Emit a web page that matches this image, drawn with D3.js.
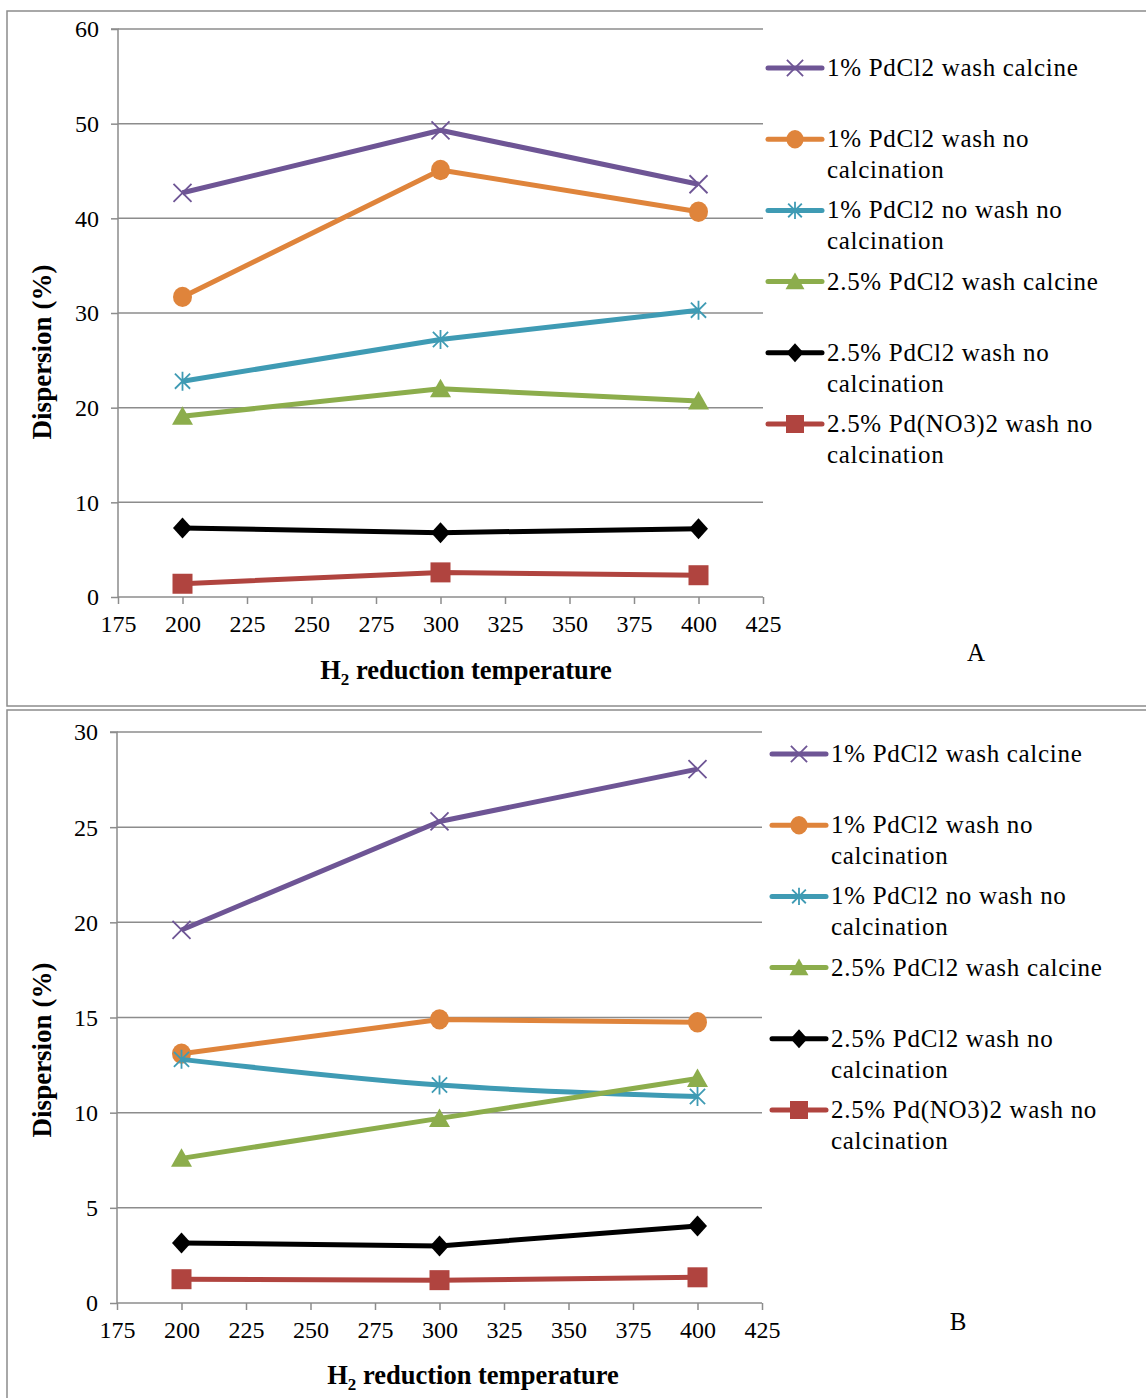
<!DOCTYPE html>
<html><head><meta charset="utf-8">
<script src="https://cdn.jsdelivr.net/npm/d3@7"></script>
<style>body{margin:0;background:#fff}svg{display:block}</style>
</head><body>
<svg id="c" width="1146" height="1398"></svg>
<script>
// ---------- data ----------
const temperatures = [200, 300, 400];
const xTicks = [175, 200, 225, 250, 275, 300, 325, 350, 375, 400, 425];
const yTicksA = [0, 10, 20, 30, 40, 50, 60];
const yTicksB = [0, 5, 10, 15, 20, 25, 30];

const legendLabels = [
  ["1% PdCl2 wash calcine"],
  ["1% PdCl2 wash no", "calcination"],
  ["1% PdCl2 no wash no", "calcination"],
  ["2.5% PdCl2 wash calcine"],
  ["2.5% PdCl2 wash no", "calcination"],
  ["2.5% Pd(NO3)2 wash no", "calcination"]
];
const seriesColors = ["#6E5595", "#DF843B", "#3F9BB4", "#8CAD4C", "#000000", "#B0443F"];
const seriesMarkers = ["x", "circle", "star", "triangle", "diamond", "square"];

// Panel A values (Dispersion %)
const a_1PdCl2WashCalcine   = [42.7, 49.3, 43.6];
const a_1PdCl2WashNoCalc    = [31.7, 45.1, 40.7];
const a_1PdCl2NoWashNoCalc  = [22.8, 27.2, 30.3];
const a_25PdCl2WashCalcine  = [19.1, 22.0, 20.7];
const a_25PdCl2WashNoCalc   = [7.3, 6.8, 7.2];
const a_25PdNO3WashNoCalc   = [1.4, 2.6, 2.3];

// Panel B values (Dispersion %)
const b_1PdCl2WashCalcine   = [19.6, 25.3, 28.05];
const b_1PdCl2WashNoCalc    = [13.1, 14.9, 14.75];
const b_1PdCl2NoWashNoCalc  = [12.8, 11.45, 10.85];
const b_25PdCl2WashCalcine  = [7.6, 9.7, 11.8];
const b_25PdCl2WashNoCalc   = [3.15, 3.0, 4.05];
const b_25PdNO3WashNoCalc   = [1.25, 1.2, 1.35];

const seriesA = [a_1PdCl2WashCalcine, a_1PdCl2WashNoCalc, a_1PdCl2NoWashNoCalc, a_25PdCl2WashCalcine, a_25PdCl2WashNoCalc, a_25PdNO3WashNoCalc];
const seriesB = [b_1PdCl2WashCalcine, b_1PdCl2WashNoCalc, b_1PdCl2NoWashNoCalc, b_25PdCl2WashCalcine, b_25PdCl2WashNoCalc, b_25PdNO3WashNoCalc];

// ---------- drawing ----------
const svg = d3.select("#c");
const GRID = "#8C8C8C";
const FONT = "'Liberation Serif','Times New Roman',Times,serif";
const LW = 5;

function drawMarker(g, type, cx, cy, color, scale) {
  const s = scale || 1;
  if (type === "x") {
    const h = 9 * s;
    g.append("path").attr("d", `M${cx-h},${cy-h}L${cx+h},${cy+h}M${cx-h},${cy+h}L${cx+h},${cy-h}`)
      .attr("stroke", color).attr("stroke-width", 1.8).attr("fill", "none");
  } else if (type === "star") {
    const h = 9.5 * s;
    g.append("path").attr("d", `M${cx-h*0.8},${cy-h*0.8}L${cx+h*0.8},${cy+h*0.8}M${cx-h*0.8},${cy+h*0.8}L${cx+h*0.8},${cy-h*0.8}M${cx},${cy-h}L${cx},${cy+h}`)
      .attr("stroke", color).attr("stroke-width", 1.8).attr("fill", "none");
  } else if (type === "circle") {
    g.append("ellipse").attr("cx", cx).attr("cy", cy).attr("rx", 9.5 * s).attr("ry", 10.2 * s).attr("fill", color);
  } else if (type === "triangle") {
    const w = 10.5 * s, hh = 10 * s;
    g.append("path").attr("d", `M${cx},${cy-hh}L${cx+w},${cy+hh*0.85}L${cx-w},${cy+hh*0.85}Z`).attr("fill", color);
  } else if (type === "diamond") {
    const w = 9.5 * s, hh = 10.5 * s;
    g.append("path").attr("d", `M${cx},${cy-hh}L${cx+w},${cy}L${cx},${cy+hh}L${cx-w},${cy}Z`).attr("fill", color);
  } else if (type === "square") {
    const h = 10 * s;
    g.append("rect").attr("x", cx - h).attr("y", cy - h).attr("width", 2 * h).attr("height", 2 * h).attr("fill", color);
  }
}

function drawPanel(cfg) {
  const g = svg.append("g");
  g.append("rect").attr("x", cfg.frame[0]).attr("y", cfg.frame[1]).attr("width", cfg.frame[2]).attr("height", cfg.frame[3])
    .attr("fill", "#fff").attr("stroke", GRID).attr("stroke-width", 1.5);

  const x = d3.scaleLinear().domain([175, 425]).range([cfg.x0, cfg.x1]);
  const y = d3.scaleLinear().domain([0, cfg.yMax]).range([cfg.y1, cfg.y0]);

  g.append("g").selectAll("line").data(cfg.yTicks.filter(d => d > 0)).join("line")
    .attr("x1", cfg.x0).attr("x2", cfg.x1).attr("y1", d => y(d)).attr("y2", d => y(d))
    .attr("stroke", GRID).attr("stroke-width", 1.5);

  const ya = g.append("g").attr("transform", `translate(${cfg.x0},0)`)
    .call(d3.axisLeft(y).tickValues(cfg.yTicks).tickSize(7).tickPadding(12).tickFormat(d3.format("d")));
  ya.attr("font-family", FONT);
  ya.select(".domain").attr("stroke", GRID).attr("stroke-width", 1.5).attr("d", `M-7,${cfg.y0}H0V${cfg.y1}`);
  ya.selectAll(".tick line").attr("stroke", GRID).attr("stroke-width", 1.5);
  ya.selectAll(".tick text").attr("font-family", FONT).attr("font-size", 24).attr("fill", "#000").attr("dy", "0.33em");

  const xa = g.append("g").attr("transform", `translate(0,${cfg.y1})`)
    .call(d3.axisBottom(x).tickValues(xTicks).tickSize(7).tickPadding(11).tickFormat(d3.format("d")));
  xa.attr("font-family", FONT);
  xa.select(".domain").attr("stroke", GRID).attr("stroke-width", 1.5).attr("d", `M${cfg.x0},0H${cfg.x1}`);
  xa.selectAll(".tick line").attr("stroke", GRID).attr("stroke-width", 1.5);
  xa.selectAll(".tick text").attr("font-family", FONT).attr("font-size", 24).attr("fill", "#000");

  const xt = g.append("text").attr("x", cfg.xTitle[0]).attr("y", cfg.xTitle[1]).attr("text-anchor", "middle")
    .attr("font-family", FONT).attr("font-size", 26.5).attr("font-weight", "bold").attr("fill", "#000");
  xt.append("tspan").text("H");
  xt.append("tspan").text("2").attr("font-size", 17).attr("dy", 6);
  xt.append("tspan").text(" reduction temperature").attr("dy", -6);

  g.append("text").attr("transform", `translate(${cfg.yTitle[0]},${cfg.yTitle[1]}) rotate(-90)`)
    .attr("text-anchor", "middle").attr("font-family", FONT).attr("font-size", 27).attr("font-weight", "bold")
    .attr("fill", "#000").text("Dispersion (%)");

  cfg.series.forEach((vals, i) => {
    const pts = temperatures.map((t, j) => [x(t), y(vals[j])]);
    const curve = (cfg.smooth && cfg.smooth[i]) ? d3.curveCatmullRom.alpha(0.5) : d3.curveLinear;
    g.append("path").attr("d", d3.line().curve(curve)(pts)).attr("fill", "none")
      .attr("stroke", seriesColors[i]).attr("stroke-width", LW).attr("stroke-linejoin", "round");
    pts.forEach(p => drawMarker(g, seriesMarkers[i], p[0], p[1], seriesColors[i]));
  });

  legendLabels.forEach((lines, i) => {
    const cy = cfg.legY + i * cfg.legStep;
    g.append("line").attr("x1", cfg.legX).attr("x2", cfg.legX + 54).attr("y1", cy).attr("y2", cy)
      .attr("stroke", seriesColors[i]).attr("stroke-width", LW).attr("stroke-linecap", "round");
    drawMarker(g, seriesMarkers[i], cfg.legX + 27, cy, seriesColors[i], 0.9);
    lines.forEach((ln, k) => {
      g.append("text").attr("x", cfg.legX + 59).attr("y", cy + 8 + k * 31)
        .attr("font-family", FONT).attr("font-size", 25).attr("letter-spacing", 0.7).attr("fill", "#000").text(ln);
    });
  });

  g.append("text").attr("x", cfg.letter[1]).attr("y", cfg.letter[2]).attr("text-anchor", "middle")
    .attr("font-family", FONT).attr("font-size", 25).attr("fill", "#000").text(cfg.letter[0]);
}

drawPanel({
  frame: [7, 11, 1146, 695],
  x0: 118, x1: 763, y0: 29, y1: 597, yMax: 60, yTicks: yTicksA,
  series: seriesA,
  xTitle: [466, 679], yTitle: [51, 352],
  legX: 768, legY: 68, legStep: 71.2,
  letter: ["A", 976, 661]
});

drawPanel({
  frame: [7, 710, 1146, 700],
  x0: 117, x1: 762, y0: 732, y1: 1303, yMax: 30, yTicks: yTicksB,
  series: seriesB, smooth: [false, false, true, false, false, false],
  xTitle: [473, 1384], yTitle: [51, 1050],
  legX: 772, legY: 754, legStep: 71.2,
  letter: ["B", 958, 1330]
});
</script>
</body></html>
